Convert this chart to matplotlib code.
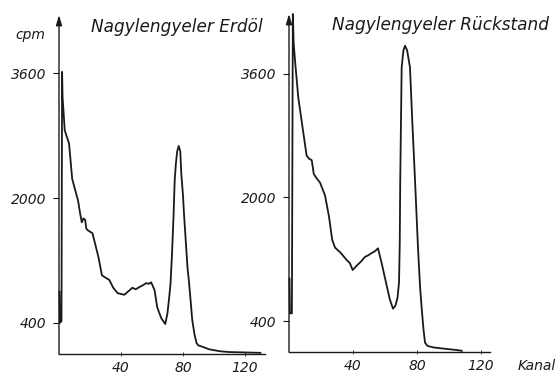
import matplotlib.pyplot as plt

# Nagylengyeler Erdöl (left panel)
ch_oil = [0.3, 0.6, 1.6, 2.0, 2.3, 3.7, 6.5, 8.5, 10.5, 12.3, 13.5, 14.7, 15.8,
          16.9, 17.6, 18.4, 20.0, 21.6, 23.5, 25.5, 27.7, 30.0, 32.5, 35.0,
          37.9, 40.0, 42.2, 44.5, 47.4, 49.5, 52.0, 54.0, 56.3, 58.0, 59.5,
          61.7, 63.4, 66.0, 68.6, 70.0, 71.0, 72.0, 73.0, 74.0, 74.7, 75.5,
          76.3, 77.3, 78.3, 79.0, 80.0, 80.7, 82.0, 83.0, 83.8, 85.0, 86.0,
          87.5, 88.8, 90.0, 93.0, 97.0, 104.0, 110.0, 120.0, 130.0]
cpm_oil = [800, 400, 420, 3620, 3300, 2870, 2700, 2250, 2100, 1970, 1820, 1690,
           1740, 1720, 1610, 1590, 1570, 1550, 1400, 1240, 1010, 980, 950, 850,
           780, 770, 760, 800, 850, 830, 860, 880, 910, 900, 920, 820, 600, 460,
           385, 520, 700, 900, 1300, 1800, 2230, 2450, 2600, 2670, 2600, 2300,
           2050, 1800, 1400, 1100, 950, 680, 440, 250, 140, 110, 90, 60, 35, 25,
           20, 15]

# Nagylengyeler Rückstand (right panel)
ch_res = [0.3, 0.6, 1.8, 2.4, 2.9, 3.75, 5.8, 8.5, 11.0, 12.5, 14.2, 15.5, 17.3,
          19.4, 22.5, 25.0, 27.0, 28.75, 31.9, 34.0, 36.0, 38.0, 39.8, 42.0,
          45.0, 47.5, 49.5, 51.7, 53.5, 55.6, 57.9, 59.5, 61.25, 63.0, 65.0,
          66.5, 67.8, 68.75, 69.2, 69.5, 70.4, 71.5, 72.5, 73.8, 75.6, 77.0,
          78.75, 80.6, 81.9, 82.9, 84.0, 85.0, 86.5, 90.0, 96.0, 105.0, 108.0]
cpm_res = [950, 500, 500, 4370, 4000, 3770, 3290, 2900, 2540, 2500, 2480, 2300,
           2245, 2190, 2025, 1750, 1450, 1350, 1290, 1240, 1190, 1150, 1060,
           1110, 1170, 1230, 1250, 1280, 1300, 1340, 1150, 1000, 840, 680, 560,
           600, 700, 900, 1400, 2200, 3680, 3900, 3960, 3900, 3680, 3000, 2220,
           1350, 840, 570, 300, 120, 80, 60, 45, 25, 15]

yticks = [400, 2000, 3600]
xticks = [40, 80, 120]

plt.rcParams['font.family'] = ['DejaVu Sans']
ink = '#1a1a1a'
fs = 10

fig = plt.figure(figsize=(5.59, 3.76), dpi=100)
W, H = 559, 376

def panel(left, bottom, right, top, xmax, ymax, ch, cpm):
    ax = fig.add_axes([left / W, 1 - bottom / H, (right - left) / W, (bottom - top) / H])
    ax.plot(ch, cpm, color=ink, lw=1.3, solid_joinstyle='round', clip_on=False)
    ax.set_xlim(0, xmax)
    ax.set_ylim(0, ymax)
    for s in ['top', 'right', 'left']:
        ax.spines[s].set_visible(False)
    ax.spines['bottom'].set_color(ink)
    ax.spines['bottom'].set_linewidth(1.0)
    ax.annotate('', xy=(0, 1), xytext=(0, 0), xycoords='axes fraction',
                arrowprops=dict(arrowstyle='-|>,head_width=0.18,head_length=0.6',
                                color=ink, lw=1.0, shrinkA=0, shrinkB=0))
    ax.set_yticks(yticks)
    ax.set_yticklabels([str(v) for v in yticks], fontsize=fs, style='italic', color=ink)
    ax.set_xticks(xticks)
    ax.set_xticklabels([str(v) for v in xticks], fontsize=fs, style='italic', color=ink)
    ax.tick_params(axis='y', length=4, width=0.8, pad=5, colors=ink)
    ax.tick_params(axis='x', length=2.5, width=0.6, direction='inout', pad=4, colors=ink)
    ax.set_facecolor('none')
    return ax

ax1 = panel(59, 354, 265, 15, 133, 4350, ch_oil, cpm_oil)
ax2 = panel(289, 352, 490, 14, 125.6, 4370, ch_res, cpm_res)

fig.text(91 / W, 1 - 32 / H, 'Nagylengyeler Erdöl', fontsize=12.2, style='italic',
         color=ink, ha='left', va='baseline')
fig.text(332 / W, 1 - 30 / H, 'Nagylengyeler Rückstand', fontsize=12.2, style='italic',
         color=ink, ha='left', va='baseline')
fig.text(45 / W, 1 - 35 / H, 'cpm', fontsize=fs, style='italic', color=ink,
         ha='right', va='center')
fig.text(518 / W, 1 - 366 / H, 'Kanal', fontsize=fs, style='italic', color=ink,
         ha='left', va='center')

fig.savefig('out.png', dpi=100, facecolor='white')
